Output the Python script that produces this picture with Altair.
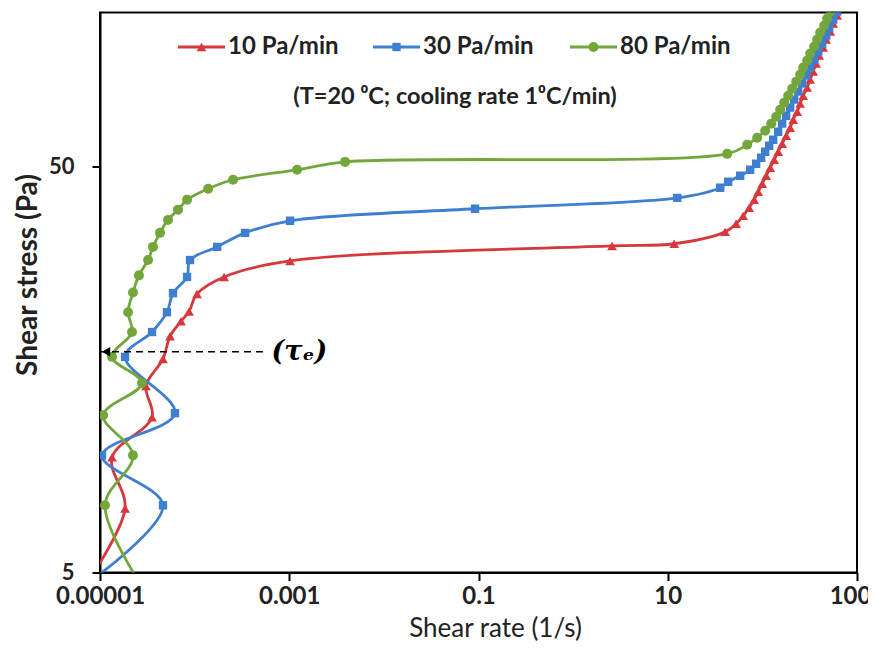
import altair as alt
import pandas as pd

series = ["10 Pa/min", "30 Pa/min", "80 Pa/min"]
colors = ["#d6383c", "#3f7fd0", "#74a73b"]
marker_shapes = ["triangle-up", "square", "circle"]
marker_sizes = [95, 70, 100]

# 10 Pa/min (red, triangles) - points in measurement order
red_x = [6.94e-6, 1.84e-5, 1.34e-5, 3.55e-5, 3.06e-5, 4.63e-5, 5.5e-5, 7.18e-5, 8.73e-5, 1.06e-4,
         2.05e-4, 1.02e-3, 2.58, 11.7, 40.4, 52.8, 62.7, 72.5, 81.9, 90.3,
         99.5, 109.7, 120.9, 133.3, 146.9, 161.9, 178.5, 196.7, 211.7, 233.3,
         250.9, 270.0, 297.6, 320.1, 344.4, 370.4, 398.5, 439.3, 472.6, 520.9,
         560.4, 617.6, 664.3]
red_y = [4.64, 7.19, 9.61, 12.07, 14.4, 16.8, 19.1, 20.8, 22.0, 24.3,
         26.76, 29.3, 31.9, 32.3, 34.55, 36.17, 37.84, 39.61, 41.45, 43.38,
         45.39, 47.51, 49.71, 52.03, 54.45, 56.99, 59.63, 62.41, 65.31, 68.35,
         71.54, 74.85, 78.35, 81.99, 85.81, 89.79, 93.99, 98.35, 102.9, 107.7,
         112.7, 117.9, 123.5]

# 30 Pa/min (blue, squares)
blue_x = [8.43e-6, 4.63e-5, 1.05e-5, 6.2e-5, 1.84e-5, 3.55e-5, 5.1e-5, 5.91e-5, 8.32e-5, 8.94e-5,
          1.73e-4, 3.41e-4, 1.02e-3, 0.092, 12.6, 35.8, 43.5, 58.3, 74.3, 86.0,
          97.1, 107.1, 118.0, 130.1, 146.9, 161.9, 178.5, 196.7, 216.9, 239.0,
          263.5, 290.4, 320.1, 352.9, 389.0, 428.7, 472.6, 508.4, 560.4, 617.6,
          681]
blue_y = [4.81, 7.32, 9.72, 12.35, 17.0, 19.57, 21.9, 24.4, 26.76, 29.45,
          31.73, 34.36, 36.8, 39.4, 41.9, 44.4, 45.92, 47.51, 49.15, 50.85,
          52.63, 54.45, 56.35, 58.30, 61.01, 63.85, 66.81, 69.92, 73.17, 76.60,
          80.15, 83.88, 87.78, 91.88, 96.16, 100.6, 105.3, 110.2, 115.3, 120.7,
          126.3]

# 80 Pa/min (green, circles)
green_x = [2.95e-5, 1.13e-5, 2.23e-5, 1.08e-5, 2.78e-5, 1.34e-5, 2.18e-5, 1.98e-5, 2.23e-5, 2.58e-5,
           3.22e-5, 3.63e-5, 4.31e-5, 5.23e-5, 6.68e-5, 8.32e-5, 1.39e-4, 2.55e-4, 1.21e-3, 3.89e-3,
           42.5, 69.1, 88.1, 107.1, 123.9, 139.9, 154.3, 170.0, 187.4, 206.5,
           227.7, 250.9, 270.0, 297.6, 320.1, 352.9, 379.6, 408.3, 450.1, 484.2,
           520.9, 560.4]
green_y = [4.52, 7.32, 9.72, 12.21, 14.65, 17.0, 19.57, 21.9, 24.5, 27.0,
           29.45, 31.73, 34.36, 36.98, 39.2, 41.45, 44.13, 46.45, 49.15, 51.4,
           53.8, 56.66, 58.96, 61.36, 63.85, 66.44, 69.14, 71.94, 74.85, 77.90,
           81.06, 84.35, 87.78, 91.35, 95.06, 98.92, 102.9, 107.1, 111.5, 116.0,
           120.7, 125.6]

x_ticks = [1e-5, 1e-3, 0.1, 10, 1000]
y_ticks = [5, 50]

tau_e = 17.5  # yield stress marked by the dashed arrow

rows = []
for name, xs, ys in [(series[0], red_x, red_y), (series[1], blue_x, blue_y), (series[2], green_x, green_y)]:
    for i, (xv, yv) in enumerate(zip(xs, ys)):
        rows.append({"series": name, "i": i, "rate": xv, "stress": yv})
df = pd.DataFrame(rows)

xscale = alt.Scale(type="log", domain=[1e-5, 1000], nice=False)
yscale = alt.Scale(type="log", domain=[5, 120], nice=False)
cscale = alt.Scale(domain=series, range=colors)

X = alt.X("rate:Q", scale=xscale,
          axis=alt.Axis(values=x_ticks, format=".5~f", title="Shear rate (1/s)", labelFlush=False,
                        titleX=395, titleY=56, titleBaseline="middle",
                        titleFontSize=26, titleFontWeight="normal", labelPadding=4))
Y = alt.Y("stress:Q", scale=yscale,
          axis=alt.Axis(values=y_ticks, format="d", title="Shear stress (Pa)",
                        titleX=-72, titleY=262, titleAngle=270, titleBaseline="middle",
                        titleAlign="center", titleFontSize=28, titleFontWeight="bold",
                        labelPadding=18, labelFontSize=22))

lines = alt.Chart(df).mark_line(strokeWidth=2.8, interpolate="catmull-rom", clip=True).encode(
    x=X, y=Y, order="i:Q",
    color=alt.Color("series:N", scale=cscale, legend=None),
)

point_layers = []
for name, shp, sz in zip(series, marker_shapes, marker_sizes):
    point_layers.append(
        alt.Chart(df).transform_filter(alt.datum.series == name)
        .mark_point(filled=True, opacity=1, clip=True, shape=shp, size=sz)
        .encode(x="rate:Q", y="stress:Q",
                color=alt.Color("series:N", scale=cscale, legend=None))
    )

# legend row drawn inside the plot (line + marker + label per series)
one = pd.DataFrame({"k": [0]})
leg_line_x = [78, 273, 470]
leg_line_len = 47
leg_y = 34.5
legend_layers = []
for name, col, shp, sz, lx in zip(series, colors, marker_shapes, marker_sizes, leg_line_x):
    legend_layers.append(alt.Chart(one).mark_rule(color=col, strokeWidth=2.8).encode(
        x=alt.value(lx), x2=alt.value(lx + leg_line_len), y=alt.value(leg_y)))
    legend_layers.append(alt.Chart(one).mark_point(shape=shp, filled=True, opacity=1, color=col, size=sz).encode(
        x=alt.value(lx + leg_line_len / 2), y=alt.value(leg_y)))
    legend_layers.append(alt.Chart(one).mark_text(text=name, font="Lato", fontSize=24, fontWeight="bold",
                                                  color="#222222", align="left", baseline="middle").encode(
        x=alt.value(lx + leg_line_len + 3), y=alt.value(leg_y)))

ann_df = pd.DataFrame({"x": [1e-5], "x2": [5.5e-4], "y": [tau_e], "xa": [1.16e-5], "xt": [6.5e-4]})
dash = alt.Chart(ann_df).mark_rule(strokeDash=[7, 5], strokeWidth=1.6, color="black").encode(
    x="x:Q", x2="x2:Q", y="y:Q")
head = alt.Chart(ann_df).mark_point(shape="triangle-left", filled=True, color="black", size=90, opacity=1).encode(
    x="xa:Q", y="y:Q")
tau = alt.Chart(ann_df).mark_text(text="(τₑ)", font="DejaVu Serif", fontStyle="italic", fontWeight="bold",
                                  fontSize=27, align="left", baseline="middle", color="black").encode(
    x="xt:Q", y="y:Q")

sub_df = pd.DataFrame({"t": ["(T=20 ⁰C; cooling rate 1⁰C/min)"]})
subtitle = alt.Chart(sub_df).mark_text(font="Lato", fontSize=23.5, fontWeight="bold", color="#222222",
                                       align="center", baseline="middle").encode(
    text="t:N", x=alt.value(355), y=alt.value(84.5))

chart = alt.layer(lines, *point_layers, *legend_layers, dash, head, tau, subtitle).properties(
    width=757, height=560,
    autosize=alt.AutoSizeParams(type="none"),
    padding={"left": 92, "top": 4.5, "right": 11, "bottom": 70},
).configure_view(stroke="black", strokeWidth=2).configure_axis(
    domainColor="black", domainWidth=2, tickColor="black", tickWidth=2, tickSize=8,
    grid=False, labelFont="Lato", labelFontSize=24, labelFontWeight="bold",
    labelColor="#222222", titleFont="Lato", titleColor="#222222",
)

chart.save("out.html", embed_options={"renderer": "svg", "actions": False})
